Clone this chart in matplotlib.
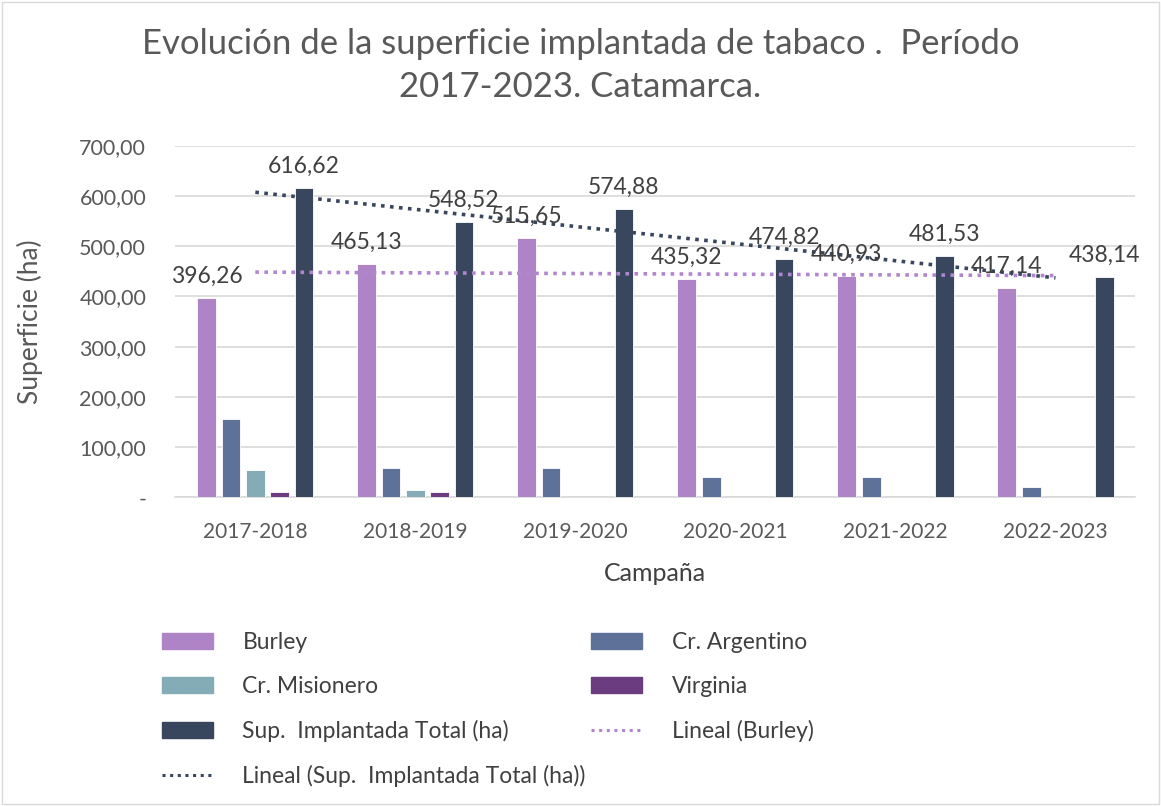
import numpy as np
import matplotlib.pyplot as plt
from matplotlib.lines import Line2D
from matplotlib.patches import Patch

campanas = ["2017-2018", "2018-2019", "2019-2020", "2020-2021", "2021-2022", "2022-2023"]
burley = [396.26, 465.13, 515.65, 435.32, 440.93, 417.14]
cr_argentino = [156.0, 58.5, 59.23, 39.5, 40.6, 21.0]
cr_misionero = [54.0, 14.5, 0, 0, 0, 0]
virginia = [10.36, 10.39, 0, 0, 0, 0]
total = [616.62, 548.52, 574.88, 474.82, 481.53, 438.14]

c_burley = "#AF84C6"
c_arg = "#5E7198"
c_mis = "#84ACB6"
c_vir = "#6B3D80"
c_tot = "#38465E"
gris = "#595959"

plt.rcParams["font.family"] = ["Lato", "DejaVu Sans"]

fig = plt.figure(figsize=(11.61, 8.06), dpi=100)
ax = fig.add_axes([0.151, 0.383, 0.827, 0.436])

x = np.arange(len(campanas))
slot = 0.152
w = 0.118
series = [(burley, c_burley), (cr_argentino, c_arg), (cr_misionero, c_mis),
          (virginia, c_vir), (total, c_tot)]
for i, (vals, col) in enumerate(series):
    ax.bar(x + (i - 2) * slot, vals, width=w, color=col, edgecolor="white", linewidth=0.6, zorder=3)

# etiquetas de datos (Burley y Total)
for off, vals in [(-2, burley), (2, total)]:
    for xi, v in zip(x, vals):
        ax.annotate(f"{v:.2f}".replace(".", ","), (xi + off * slot, v), xytext=(0, 8),
                    textcoords="offset points", ha="center", va="bottom",
                    fontsize=16.5, color="#404040", zorder=5)

# lineas de tendencia
for vals, col in [(burley, "#B286CE"), (total, c_tot)]:
    m, b = np.polyfit(x, vals, 1)
    ax.plot(x, m * x + b, linestyle=(0, (1, 1.5)), color=col, linewidth=2.6, zorder=4)

ax.set_xlim(-0.5, len(campanas) - 0.5)
ax.set_ylim(0, 700)
ax.set_yticks(np.arange(0, 701, 100))
ax.set_yticklabels(["-"] + [f"{v},00" for v in range(100, 701, 100)])
ax.set_xticks(x)
ax.set_xticklabels(campanas)
ax.tick_params(axis="x", length=0, labelsize=15, colors=gris, pad=18)
ax.tick_params(axis="y", length=0, labelsize=15.5, colors=gris, pad=21)
ax.grid(axis="y", color="#D9D9D9", linewidth=1.2, zorder=0)
for s in ["top", "right", "left"]:
    ax.spines[s].set_visible(False)
ax.spines["bottom"].set_color("#D9D9D9")
ax.spines["bottom"].set_linewidth(1.2)

ax.set_xlabel("Campaña", fontsize=18, color="#404040", labelpad=14)
ax.set_ylabel("Superficie (ha)", fontsize=19, color=gris)
ax.yaxis.set_label_coords(-0.138, 0.5)

fig.suptitle("Evolución de la superficie implantada de tabaco .  Período\n2017-2023. Catamarca.",
             fontsize=25, color=gris, y=0.965, linespacing=1.4)

handles = [
    Patch(color=c_burley, label="Burley"),
    Patch(color=c_mis, label="Cr. Misionero"),
    Patch(color=c_tot, label="Sup.  Implantada Total (ha)"),
    Line2D([], [], color=c_tot, linestyle=(0, (1, 1.5)), linewidth=2.2, label="Lineal (Sup.  Implantada Total (ha))"),
    Patch(color=c_arg, label="Cr. Argentino"),
    Patch(color=c_vir, label="Virginia"),
    Line2D([], [], color="#B286CE", linestyle=(0, (1, 1.5)), linewidth=2.2, label="Lineal (Burley)"),
]
leg = fig.legend(handles=handles, ncol=2, loc="upper left", bbox_to_anchor=(0.122, 0.241),
                 frameon=False, fontsize=16.5, handlelength=2.2, handleheight=0.7,
                 labelspacing=1.0, columnspacing=0.24, handletextpad=1.3)
for t in leg.get_texts():
    t.set_color("#404040")

fig.patches.append(plt.Rectangle((0.002, 0.002), 0.996, 0.996, transform=fig.transFigure,
                                 fill=False, edgecolor="#D9D9D9", linewidth=1))

fig.savefig("out.png", dpi=100)
